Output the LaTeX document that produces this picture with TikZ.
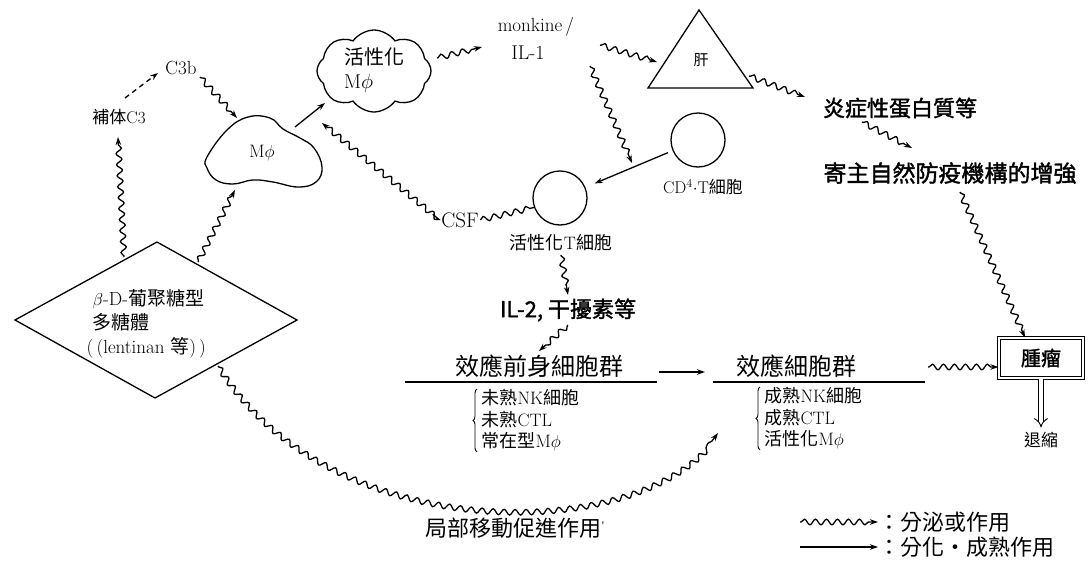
\documentclass[tikz,border=0pt]{standalone}
\usepackage{fontspec}
\newfontfamily\cjk{Noto Sans CJK TC}
\newfontfamily\cjkb[FakeBold=1.6]{Noto Sans CJK TC}
\usetikzlibrary{arrows.meta,decorations.pathmorphing,decorations.pathreplacing,shapes.geometric,shapes.symbols}
\newcommand\setfs[1]{\fontsize{#1}{#1}\selectfont}
\begin{document}
\begin{tikzpicture}[x=1pt,y=-1pt,line width=1.3pt,
  wave/.style={decorate,decoration={snake,amplitude=2.8pt,segment length=11pt,pre length=1pt,post length=6pt},-{Stealth[length=8pt,width=5.5pt]}},
  wavenh/.style={decorate,decoration={snake,amplitude=2.8pt,segment length=11pt}},
  arr/.style={-{Stealth[length=8pt,width=5.5pt]}},
  txt/.style={inner sep=1pt,align=center},
  cellc/.style={circle,draw,minimum size=54pt,inner sep=0pt},
  brc/.style={decorate,decoration={brace,amplitude=4pt},line width=0.9pt}]
\useasboundingbox[fill=white] (0,0) rectangle (1090,565);

% ---------- diamond ----------
\coordinate (dL) at (15,320); \coordinate (dT) at (157,242);
\coordinate (dR) at (297,320); \coordinate (dB) at (155,398);
\draw (dL) -- (dT) -- (dR) -- (dB) -- cycle;
\node[inner sep=0pt,align=left,anchor=west,font=\setfs{19}] (glc) at (86,324)
  {\hspace*{6pt}$\beta$-D-{\cjk 葡聚糖型}\\[3pt]\hspace*{6pt}{\cjk 多糖體}\\[5pt](\,(lentinan {\cjk 等})\,)};

% ---------- complement ----------
\node[txt,font=\setfs{17}] (c3) at (119,117) {{\cjk 補体}C3};
\node[txt,font=\setfs{19}] (c3b) at (181,68) {C3b};

% ---------- macrophage blob ----------
\draw plot[smooth cycle,tension=0.7] coordinates {(207,157) (227,130) (248,117) (270,118) (283,129) (300,138) (314,148) (322,167) (316,182) (298,187) (273,182) (253,180) (233,184) (216,180) (207,168)};
\node[txt,font=\setfs{18}] (mphi) at (262,153) {M$\phi$};

% ---------- activated macrophage cloud ----------
\node[cloud,draw,cloud puffs=8,cloud puff arc=110,aspect=1.35,minimum width=114pt,minimum height=82pt,inner sep=0pt] (amphi) at (374,71) {};
\node[inner sep=0pt,align=left,font=\setfs{20}] (amphit) at (374,70) {{\cjk 活性化}\\[4pt]M$\phi$};

% ---------- monokine ----------
\node[txt,font=\setfs{19}] (monk) at (536,27) {monkine\,/};
\node[txt,font=\setfs{20}] (il1) at (528,53) {IL-1};

% ---------- liver ----------
\coordinate (lA) at (699,10); \coordinate (lR) at (753,88); \coordinate (lL) at (648,88);
\draw (lA) -- (lR) -- (lL) -- cycle;
\node[txt,font=\setfs{15}] (liver) at (701,60) {{\cjk 肝}};

% ---------- T cells ----------
\node[cellc] (cd4) at (698,140) {};
\node[txt,font=\setfs{17}] (cd4t) at (703,187) {CD$^{4}$${\cdot}$T{\cjk 細胞}};
\node[cellc] (actT) at (560,198) {};
\node[txt,font=\setfs{18}] (actTt) at (561,243) {{\cjk 活性化}T{\cjk 細胞}};
\node[txt,font=\setfs{21}] (csf) at (460,220) {CSF};

% ---------- right text ----------
\node[txt,font=\cjkb\setfs{22}] (infl) at (900,108) {炎症性蛋白質等};
\node[txt,font=\cjkb\setfs{23}] (host) at (950,173) {寄主自然防疫機構的增強};

% ---------- middle ----------
\node[txt,font=\cjkb\setfs{22}] (il2) at (568,310) {IL-2,\ 干擾素等};
\node[txt,font=\cjk\setfs{24}] (pre) at (539,366) {效應前身細胞群};
\node[txt,font=\cjk\setfs{24}] (eff) at (796,366) {效應細胞群};
\coordinate (u1a) at (405,382); \coordinate (u1b) at (657,382);
\coordinate (u2a) at (713,382); \coordinate (u2b) at (925,382);
\draw (u1a) -- (u1b);
\draw (u2a) -- (u2b);
\node[inner sep=0pt,align=left,anchor=north west,font=\fontsize{18}{21.5}\selectfont] (l1) at (481,389)
  {{\cjk 未熟}NK{\cjk 細胞}\\{\cjk 未熟}CTL\\{\cjk 常在型}M$\phi$};
\node[inner sep=0pt,align=left,anchor=north west,font=\fontsize{18}{21.5}\selectfont] (l2) at (764,387)
  {{\cjk 成熟}NK{\cjk 細胞}\\{\cjk 成熟}CTL\\{\cjk 活性化}M$\phi$};
\draw[brc] ([xshift=-4pt]l1.south west) -- ([xshift=-4pt]l1.north west);
\draw[brc] ([xshift=-4pt]l2.south west) -- ([xshift=-4pt]l2.north west);

% ---------- tumour ----------
\node[draw,double,double distance=2.4pt,line width=1.1pt,minimum width=84pt,minimum height=40pt,font=\cjkb\setfs{20}] (tumor) at (1041,358) {腫瘤};
\node[txt,font=\cjk\setfs{17}] (shrink) at (1041,440) {退縮};
\draw[double,double distance=4pt,line width=0.9pt,-{Implies}] (tumor.south) -- ([yshift=3pt]shrink.north);

% ---------- local label ----------
\node[txt,font=\cjk\setfs{22}] (local) at (515,528) {局部移動促進作用\raisebox{7pt}{\setfs{10}'}};

% ---------- legend ----------
\node[inner sep=0pt,anchor=west,font=\cjk\setfs{22}] (lg1) at (878,522) {：分泌或作用};
\node[inner sep=0pt,anchor=west,font=\cjk\setfs{22}] (lg2) at (878,547) {：分化・成熟作用};
\coordinate (lg1s) at (800,522); \coordinate (lg2s) at (800,547);
\draw[wave] (lg1s) -- (lg1.west);
\draw[arr] (lg2s) -- (lg2.west);

% ---------- connectors ----------
\coordinate (p1a) at (124,257); \coordinate (p1b) at (118,137);
\draw[wave] (p1a) -- (p1b);
\coordinate (p2a) at (125,98); \coordinate (p2b) at (158,73);
\draw[arr,dash pattern=on 5pt off 4pt] (p2a) -- (p2b);
\coordinate (p3a) at (200,77); \coordinate (p3b) at (237,118);
\draw[wave] (p3a) -- (p3b);
\coordinate (p4a) at (198,262); \coordinate (p4b) at (235,190);
\draw[wave] (p4a) -- (p4b);
\coordinate (p5a) at (295,127); \coordinate (p5b) at (325,103);
\draw[arr] (p5a) -- (p5b);
\coordinate (p6a) at (437,58); \coordinate (p6b) at (482,47);
\draw[wave] (p6a) -- (p6b);
\coordinate (p7a) at (600,45); \coordinate (p7b) at (657,62);
\draw[wave] (p7a) -- (p7b);
\coordinate (p8a) at (590,66); \coordinate (p8b) at (632,163);
\draw[wave] (p8a) -- (p8b);
\draw[arr,shorten <=5pt,shorten >=10pt] (cd4) -- (actT);
\draw[wavenh] (csf.east) -- (actT.200);
\coordinate (p11b) at (322,123);
\draw[wave,shorten <=9pt] (csf.west) -- (p11b);
\draw[wave] ([yshift=-2pt]actTt.south) -- ([yshift=2pt]il2.north);
\draw[wave] ([yshift=-2pt]il2.south) -- ([yshift=2pt]pre.north);
\coordinate (p14a) at (659,372); \coordinate (p14b) at (705,372);
\draw[arr] (p14a) -- (p14b);
\coordinate (p15a) at (928,367);
\draw[wave] (p15a) -- ([yshift=-9pt]tumor.west);
\coordinate (p16a) at (862,122); \coordinate (p16b) at (912,148);
\draw[wave] (p16a) -- (p16b);
\coordinate (p17a) at (960,192);
\draw[wave] (p17a) -- ([xshift=-16pt]tumor.north);
\coordinate (p18a) at (749,76); \coordinate (p18b) at (805,97);
\draw[wave] (p18a) -- (p18b);
\coordinate (p19a) at (218,366); \coordinate (p19b) at (718,433);
\draw[wave] (p19a) .. controls (330,545) and (640,545) .. (p19b);
\end{tikzpicture}
\end{document}
